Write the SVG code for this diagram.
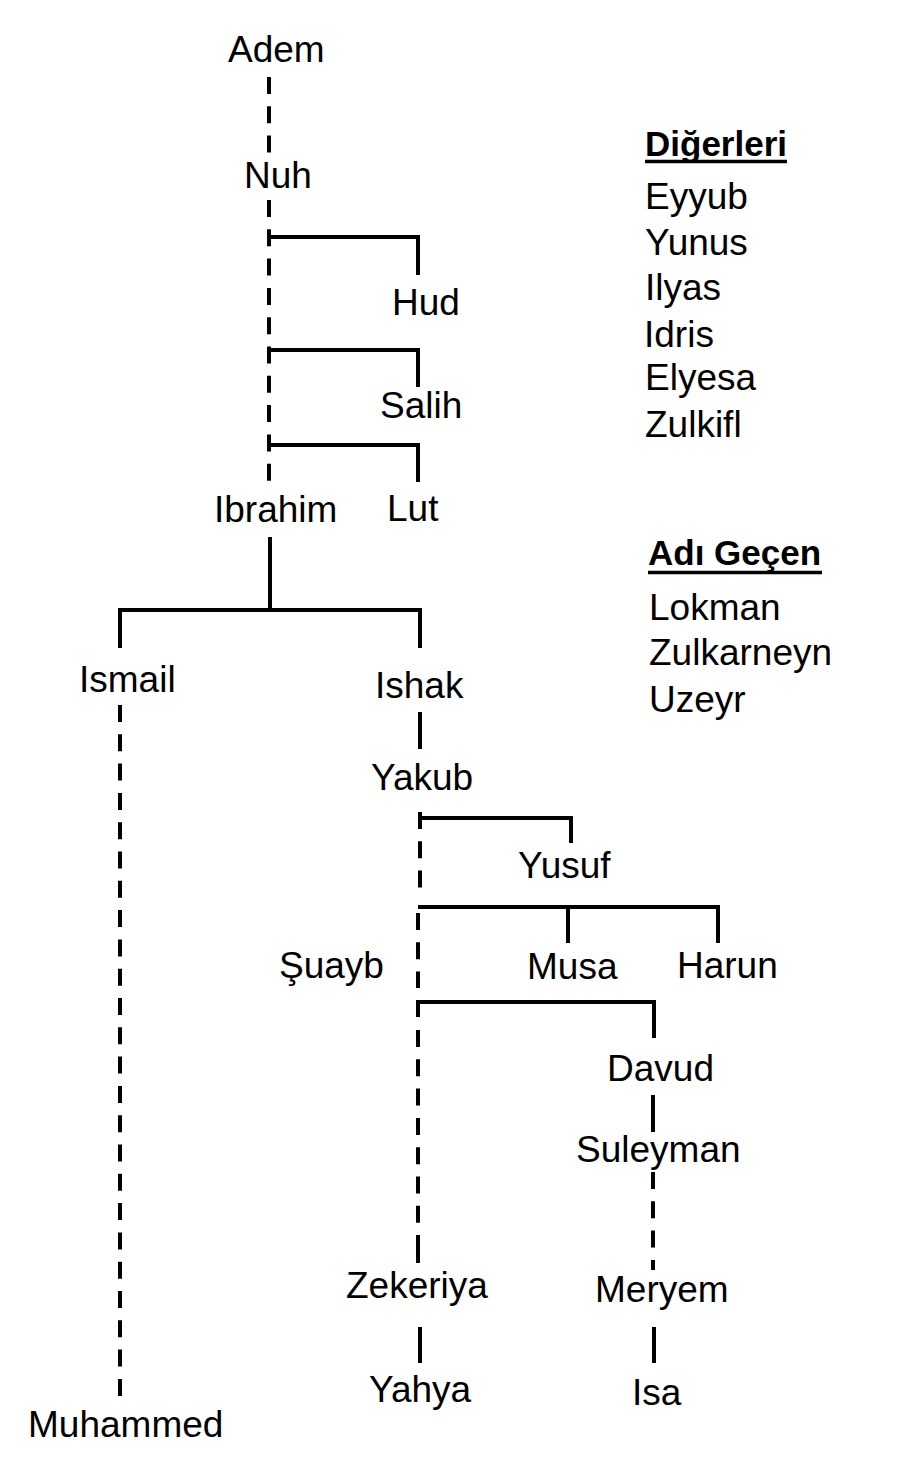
<svg xmlns="http://www.w3.org/2000/svg" width="923" height="1470" viewBox="0 0 923 1470">
<style>
text{font-family:"Liberation Sans",Arial,sans-serif;font-size:37px;fill:#000}
.h{font-weight:bold;font-size:35px}
.s{stroke:#000;stroke-width:4;fill:none}
.d{stroke:#000;stroke-width:4;fill:none;stroke-dasharray:17 12.3}
</style>
<rect width="923" height="1470" fill="#fff"/>
<g id="connectors">
<line class="d" x1="269" y1="77" x2="269" y2="156"/>
<line class="d" x1="269" y1="200" x2="269" y2="482"/>
<path class="s" d="M269 237H418V275"/>
<path class="s" d="M269 350H418V387"/>
<path class="s" d="M269 445H418V482"/>
<line class="s" x1="270" y1="537" x2="270" y2="610"/>
<path class="s" d="M120 648V610H420V648"/>
<line class="s" x1="420" y1="712" x2="420" y2="749"/>
<line class="d" x1="120" y1="705" x2="120" y2="1397"/>
<line class="d" x1="420" y1="812" x2="420" y2="900"/>
<path class="s" d="M420 818H571V843"/>
<path class="s" d="M418 907H718V943"/>
<line class="s" x1="568" y1="907" x2="568" y2="943"/>
<line class="d" x1="418" y1="913" x2="418" y2="988"/>
<path class="s" d="M418 1017V1002H654V1038"/>
<line class="d" x1="418" y1="1030" x2="418" y2="1235"/>
<line class="s" x1="418" y1="1235" x2="418" y2="1263"/>
<line class="s" x1="653" y1="1095" x2="653" y2="1132"/>
<line class="d" x1="653" y1="1172" x2="653" y2="1270"/>
<line class="s" x1="420" y1="1327" x2="420" y2="1363"/>
<line class="s" x1="654" y1="1327" x2="654" y2="1363"/>
</g>
<g id="n-adem"><text x="228" y="62">Adem</text></g>
<g id="n-nuh"><text x="244" y="188">Nuh</text></g>
<g id="n-hud"><text x="392" y="315">Hud</text></g>
<g id="n-salih"><text x="380" y="418">Salih</text></g>
<g id="n-ibrahim"><text x="214" y="522">Ibrahim</text></g>
<g id="n-lut"><text x="387" y="521">Lut</text></g>
<g id="n-ismail"><text x="79" y="692">Ismail</text></g>
<g id="n-ishak"><text x="375" y="698">Ishak</text></g>
<g id="n-yakub"><text x="371" y="790">Yakub</text></g>
<g id="n-yusuf"><text x="518" y="878">Yusuf</text></g>
<g id="n-suayb"><text x="279" y="978">Şuayb</text></g>
<g id="n-musa"><text x="527" y="979">Musa</text></g>
<g id="n-harun"><text x="677" y="978">Harun</text></g>
<g id="n-davud"><text x="607" y="1081">Davud</text></g>
<g id="n-suleyman"><text x="576" y="1162">Suleyman</text></g>
<g id="n-zekeriya"><text x="346" y="1298">Zekeriya</text></g>
<g id="n-meryem"><text x="595" y="1302">Meryem</text></g>
<g id="n-yahya"><text x="369" y="1402">Yahya</text></g>
<g id="n-isa"><text x="632" y="1405">Isa</text></g>
<g id="n-muhammed"><text x="28" y="1437">Muhammed</text></g>
<g id="digerleri">
<text class="h" x="645" y="156">Diğerleri</text>
<line x1="645" y1="161.5" x2="787" y2="161.5" stroke="#000" stroke-width="3.5"/>
<text x="645" y="209">Eyyub</text>
<text x="645" y="255">Yunus</text>
<text x="645" y="300">Ilyas</text>
<text x="644" y="347">Idris</text>
<text x="645" y="390">Elyesa</text>
<text x="645" y="437">Zulkifl</text>
</g>
<g id="adi-gecen">
<text class="h" x="648" y="565">Adı Geçen</text>
<line x1="648" y1="572.5" x2="822" y2="572.5" stroke="#000" stroke-width="3.5"/>
<text x="649" y="620">Lokman</text>
<text x="649" y="665">Zulkarneyn</text>
<text x="649" y="712">Uzeyr</text>
</g>
</svg>
